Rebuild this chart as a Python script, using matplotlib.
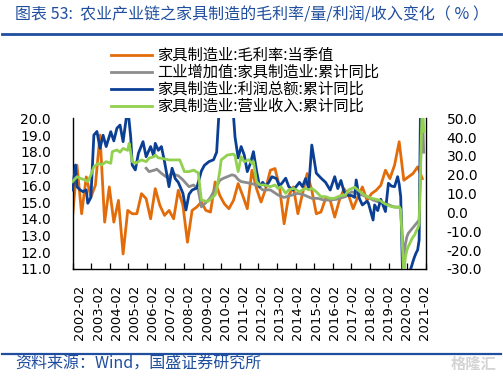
import numpy as np
import pandas as pd
import matplotlib
matplotlib.use('Agg')
import matplotlib.pyplot as plt
from matplotlib.lines import Line2D
from matplotlib.ticker import FormatStrFormatter, FixedLocator

plt.rcParams['font.family'] = ['DejaVu Sans']
plt.rcParams['axes.unicode_minus'] = False
CJK = ['Noto Sans CJK SC', 'DejaVu Sans']

TITLE = '图表 53:  农业产业链之家具制造的毛利率/量/利润/收入变化（ % ）'
SOURCE = '资料来源：Wind，国盛证券研究所'

LABELS = [
    '家具制造业:毛利率:当季值',
    '工业增加值:家具制造业:累计同比',
    '家具制造业:利润总额:累计同比',
    '家具制造业:营业收入:累计同比',
]
COLORS = ['#E36C0A', '#8C8C8C', '#0B3F94', '#92D050']

# gross margin, quarterly, from 2002-02 (left axis)
margin_start = '2002-02-01'
margin_vals = [
    14.1, 17.2, 14.3, 16.5, 15.3, 16.0, 19.0, 13.8, 15.9, 13.8,
    15.1, 11.9, 14.5, 14.3, 14.3, 15.5, 15.2, 14.0, 15.8, 14.8,
    14.2, 14.5, 14.0, 15.7, 14.8, 12.6, 14.5, 14.7, 15.0, 14.5,
    14.4, 16.2, 15.4, 14.9, 14.6, 15.1, 16.1, 15.4, 14.6, 16.9,
    15.8, 15.0, 15.8, 16.9, 17.0, 15.9, 13.7, 15.4, 15.9, 14.3,
    15.5, 16.7, 15.7, 14.3, 14.4, 15.2, 15.1, 14.1, 15.1, 15.8,
    15.4, 14.6, 15.3, 15.9, 15.1, 15.5, 15.7, 16.0, 16.9, 16.4,
    17.2, 18.6, 16.3, 16.5, 16.7, 17.1, 16.4,
]

# industrial value added, cumulative yoy (right axis)
iva_dates = [
    '2006-02', '2006-04', '2006-08', '2006-09', '2006-12', '2007-03', '2007-05', '2007-07',
    '2007-09', '2007-11', '2008-02', '2008-03', '2008-05', '2008-06', '2008-09', '2008-11',
    '2008-12', '2009-02', '2009-04', '2009-06', '2009-08', '2009-10', '2009-12', '2010-02',
    '2010-04', '2010-07', '2010-10', '2010-12', '2011-02', '2011-04', '2011-10', '2012-02',
    '2012-06', '2012-11', '2013-04', '2013-08', '2013-12', '2014-05', '2014-09', '2015-02',
    '2015-06', '2015-10', '2016-02', '2016-06', '2016-12', '2017-04', '2017-08', '2018-02',
    '2018-06', '2018-10', '2019-02', '2019-07', '2019-11', '2019-12', '2020-02', '2020-03',
    '2020-04', '2020-05', '2020-06', '2020-07', '2020-08', '2020-09', '2020-10', '2020-11',
    '2020-12', '2021-02', '2021-03',
]
iva_vals = [
    23.5, 21.7, 22.6, 23.0, 20.8, 19.0, 19.0, 21.7,
    20.0, 19.5, 17.3, 16.4, 14.6, 13.7, 14.6, 12.8,
    12.0, 3.0, 4.5, 6.0, 8.0, 11.0, 14.0, 17.0,
    18.0, 19.0, 20.0, 19.5, 17.5, 16.4, 15.5, 14.6,
    12.0, 12.0, 9.3, 8.0, 9.0, 10.2, 9.3, 7.5,
    7.5, 6.6, 6.6, 7.0, 8.4, 11.0, 10.0, 8.4,
    6.6, 5.5, 4.9, 3.1, 2.7, 2.5, -27.0, -17.0,
    -13.0, -11.0, -10.0, -9.0, -8.0, -7.0, -6.0, -5.0,
    -4.0, 60.0, 32.0,
]

# total profit, cumulative yoy (right axis)
profit_dates = [
    '2002-02', '2002-04', '2002-05', '2002-07', '2002-09', '2002-11', '2002-12', '2003-02',
    '2003-04', '2003-06', '2003-08', '2003-10', '2003-12', '2004-03', '2004-05', '2004-07',
    '2004-09', '2004-11', '2005-02', '2005-04', '2005-05', '2005-07', '2005-09', '2005-12',
    '2006-02', '2006-05', '2006-07', '2006-08', '2006-10', '2006-12', '2007-02', '2007-05',
    '2007-07', '2007-09', '2007-11', '2008-02', '2008-04', '2008-06', '2008-08', '2008-11',
    '2009-02', '2009-04', '2009-07', '2009-10', '2009-12', '2010-02', '2010-06', '2010-09',
    '2010-11', '2010-12', '2011-02', '2011-04', '2011-06', '2011-08', '2011-10', '2011-12',
    '2012-02', '2012-04', '2012-06', '2012-08', '2012-10', '2012-12', '2013-03', '2013-05',
    '2013-07', '2013-09', '2013-11', '2014-02', '2014-06', '2014-08', '2014-10', '2014-12',
    '2015-02', '2015-05', '2015-08', '2015-11', '2016-02', '2016-05', '2016-07', '2016-09',
    '2016-11', '2017-02', '2017-04', '2017-06', '2017-07', '2017-09', '2017-11', '2018-02',
    '2018-03', '2018-06', '2018-07', '2018-09', '2018-11', '2019-02', '2019-04', '2019-06',
    '2019-08', '2019-10', '2019-11', '2019-12', '2020-02', '2020-03', '2020-04', '2020-05',
    '2020-06', '2020-07', '2020-08', '2020-09', '2020-10', '2020-11', '2020-12', '2021-02',
    '2021-03',
]
profit_vals = [
    11.9, 25.2, 13.7, 12.0, 11.0, 12.0, 4.9, 8.0,
    41.1, 43.0, 34.1, 41.0, 35.0, 42.9, 38.0, 44.7,
    46.4, 37.6, 56.0, 40.0, 25.2, 22.6, 31.4, 37.6,
    29.6, 35.0, 30.0, 36.7, 33.0, 35.0, 27.0, 13.7,
    23.5, 18.0, 16.0, 10.2, 1.3, 9.7, 11.9, 13.0,
    22.0, 25.0, 27.0, 28.0, 32.0, 60.0, 90.0, 75.0,
    51.0, 40.0, 29.0, 35.0, 30.6, 21.7, 26.0, 32.3,
    22.0, 13.7, 16.0, 14.0, 16.0, 19.0, 18.0, 14.0,
    16.0, 18.2, 13.7, 11.9, 16.0, 13.7, 18.0, 12.8,
    35.8, 20.9, 18.3, 16.0, 11.9, 19.0, 12.7, 17.0,
    11.0, 9.0, 9.0, 8.0, 17.3, 7.5, 4.0, 6.0,
    4.9, -4.0, 4.0, 1.0, 7.0, 0.5, 15.5, 14.0,
    13.7, 19.0, 15.0, 8.4, -60.0, -50.0, -42.0, -36.0,
    -31.0, -28.8, -26.0, -23.5, -21.5, -19.9, -14.6, 150.0,
    110.0,
]

# operating revenue, cumulative yoy (right axis)
revenue_dates = [
    '2002-02', '2002-05', '2002-07', '2002-10', '2002-12', '2003-02', '2003-04', '2003-07',
    '2003-09', '2003-12', '2004-03', '2004-04', '2004-07', '2004-09', '2004-11', '2005-02',
    '2005-03', '2005-05', '2005-07', '2005-09', '2005-11', '2006-02', '2006-04', '2006-07',
    '2006-08', '2006-10', '2006-12', '2007-05', '2007-09', '2007-12', '2008-03', '2008-06',
    '2008-09', '2008-12', '2009-02', '2009-06', '2009-08', '2009-11', '2009-12', '2010-02',
    '2010-03', '2010-07', '2010-11', '2010-12', '2011-02', '2011-04', '2011-06', '2011-09',
    '2011-11', '2011-12', '2012-02', '2012-04', '2012-07', '2012-11', '2013-02', '2013-04',
    '2013-06', '2013-09', '2013-11', '2014-02', '2014-04', '2014-06', '2014-08', '2014-10',
    '2014-12', '2015-02', '2015-05', '2015-08', '2015-11', '2016-02', '2016-05', '2016-06',
    '2016-09', '2016-12', '2017-02', '2017-06', '2017-08', '2017-11', '2018-02', '2018-05',
    '2018-10', '2018-12', '2019-02', '2019-06', '2019-09', '2019-11', '2019-12', '2020-02',
    '2020-03', '2020-04', '2020-05', '2020-06', '2020-07', '2020-08', '2020-09', '2020-10',
    '2020-11', '2020-12', '2021-02', '2021-03',
]
revenue_vals = [
    16.4, 19.0, 18.2, 17.3, 16.4, 19.9, 24.3, 26.1,
    25.2, 27.0, 26.1, 32.3, 33.2, 32.0, 34.0, 33.0,
    36.7, 27.0, 26.1, 27.0, 27.9, 27.0, 28.8, 29.6,
    30.5, 29.0, 28.8, 27.9, 27.9, 27.9, 21.7, 21.7,
    22.5, 21.0, 6.6, 5.8, 7.0, 9.3, 12.0, 22.0,
    27.9, 30.5, 31.0, 30.0, 21.7, 29.6, 27.0, 28.0,
    26.1, 27.0, 16.4, 14.6, 14.6, 13.7, 14.6, 12.8,
    13.7, 10.2, 12.0, 12.8, 12.0, 11.0, 12.0, 12.8,
    12.0, 12.8, 11.0, 8.4, 8.4, 7.5, 7.5, 8.0,
    9.0, 9.3, 12.0, 13.4, 12.0, 10.0, 8.4, 7.5,
    6.6, 5.5, 4.5, 3.1, 2.7, 3.1, 1.5, -33.0,
    -24.0, -20.0, -18.0, -16.3, -14.5, -13.0, -12.0, -10.0,
    -8.5, -6.0, 60.0, 43.0,
]

YEAR_LABELS = [f'{y}-02' for y in range(2002, 2022)]

fig = plt.figure(figsize=(5.03, 3.77), dpi=100)
ax = fig.add_axes([72.5 / 503, 1 - 269 / 377, 353.2 / 503, 150.7 / 377])
ax2 = ax.twinx()

margin_x = pd.date_range(margin_start, periods=len(margin_vals), freq='3MS')
ax.plot(margin_x, margin_vals, color=COLORS[0], lw=2.0, label=LABELS[0])
ax2.plot(pd.to_datetime(iva_dates), iva_vals, color=COLORS[1], lw=2.0, label=LABELS[1])
ax2.plot(pd.to_datetime(profit_dates), profit_vals, color=COLORS[2], lw=2.0, label=LABELS[2])
ax2.plot(pd.to_datetime(revenue_dates), revenue_vals, color=COLORS[3], lw=2.0, label=LABELS[3])

x0, x1 = pd.Timestamp('2002-02-01'), pd.Timestamp('2021-04-10')
ax.set_xlim(x0, x1)
ax.set_ylim(11, 20)
ax2.set_ylim(-30, 50)
ax.set_yticks(np.arange(11, 20.01, 1))
ax2.set_yticks(np.arange(-30, 50.01, 10))
ax.yaxis.set_major_formatter(FormatStrFormatter('%.1f'))
ax2.yaxis.set_major_formatter(FormatStrFormatter('%.1f'))

# year labels sit between the year tick marks, as in the source chart
lo, hi = ax.get_xlim()
lab_pos = lo + (hi - lo) * np.linspace(0.021, 0.998, len(YEAR_LABELS))
ax.set_xticks(lab_pos)
ax.set_xticklabels(YEAR_LABELS, rotation=90, fontsize=9.5)
ax.xaxis.set_minor_locator(FixedLocator(lo + (hi - lo) * np.linspace(0, 1, 20)))
ax.tick_params(axis='x', which='major', length=0, pad=11)
ax.tick_params(axis='x', which='minor', direction='in', length=4, width=0.9)
ax.tick_params(axis='y', length=0, pad=15.5, labelsize=10)
ax2.tick_params(axis='y', length=0, pad=15, labelsize=10)
ax2.tick_params(axis='x', which='both', length=0)

for a in (ax, ax2):
    a.spines['top'].set_visible(False)
    for s in a.spines.values():
        s.set_linewidth(1.0)
ax.spines['right'].set_visible(False)
ax2.spines['left'].set_visible(False)
ax2.spines['bottom'].set_visible(False)

handles = ax.get_lines() + ax2.get_lines()
fig.legend(handles, LABELS, loc='upper left', bbox_to_anchor=(111 / 503, 1 - 47 / 377),
           frameon=False, prop={'family': CJK, 'size': 11}, handlelength=2.7,
           handletextpad=0.3, labelspacing=0.0, borderpad=0, borderaxespad=0)

blue = '#1F4E9E'
fig.text(15 / 503, 1 - 15 / 377, TITLE, fontsize=11.5, color=blue, va='center',
         ha='left', family=CJK, style='italic')
fig.add_artist(Line2D([2 / 503, 501 / 503], [1 - 33.5 / 377] * 2, color=blue, lw=2.0))
fig.add_artist(Line2D([2 / 503, 501 / 503], [1 - 353.5 / 377] * 2, color=blue, lw=1.6))
fig.text(15 / 503, 1 - 364 / 377, SOURCE, fontsize=11.5, color=blue, va='center',
         ha='left', family=CJK, style='italic')
fig.text(496 / 503, 1 - 364 / 377, '格隆汇', fontsize=11, color='#d4d4d4', va='center',
         ha='right', family=CJK, fontweight='bold')

fig.savefig('out.png', dpi=100)
